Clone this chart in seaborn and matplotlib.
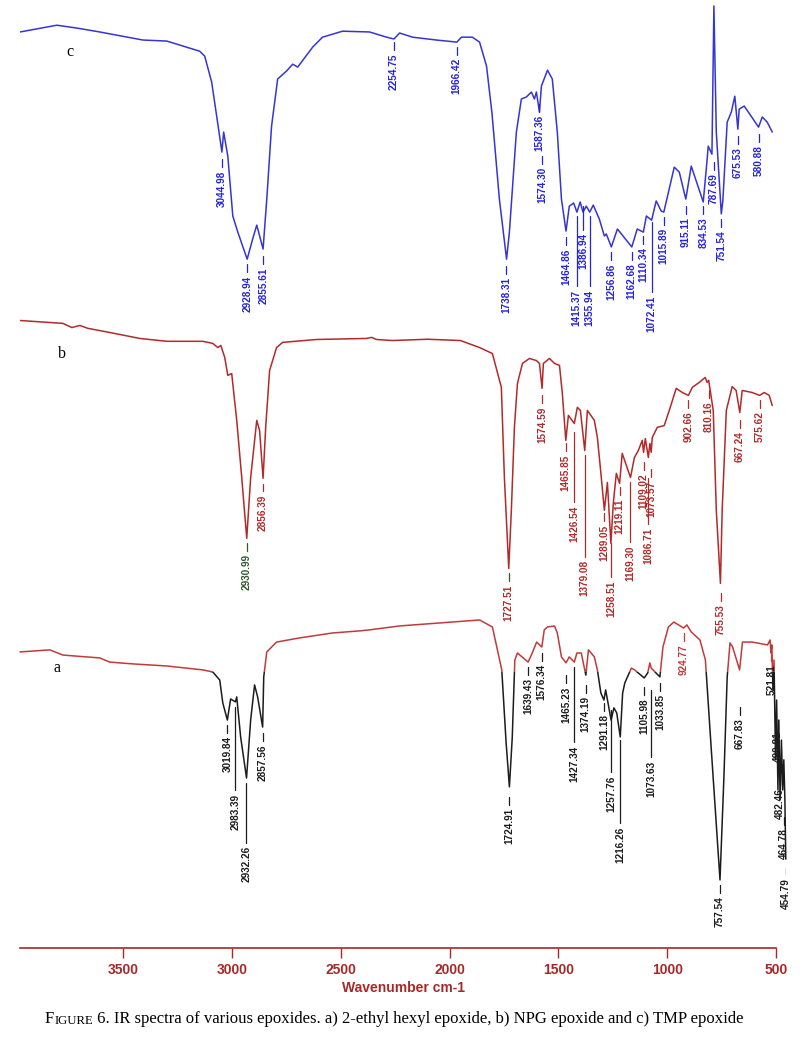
import numpy as np
import matplotlib
matplotlib.use("Agg")
import matplotlib.pyplot as plt
from matplotlib.patches import Rectangle
import seaborn as sns

# IR spectra: wavenumber (cm-1) and transmittance (%T)
# c) TMP epoxide
c_wn = [3972, 3803, 3711, 3606, 3408, 3298, 3147, 3124, 3092, 3069,
        3045, 3037, 3018, 2995, 2972, 2929, 2904, 2885, 2856, 2839,
        2817, 2789, 2748, 2720, 2697, 2628, 2583, 2491, 2367, 2289,
        2255, 2229, 2170, 2060, 1966, 1945, 1895, 1862, 1830, 1805,
        1771, 1738, 1725, 1693, 1670, 1647, 1624, 1610, 1601, 1587,
        1578, 1550, 1528, 1505, 1486, 1465, 1450, 1430, 1415, 1400,
        1387, 1372, 1356, 1340, 1312, 1289, 1280, 1257, 1229, 1163,
        1138, 1110, 1096, 1072, 1051, 1028, 1016, 968, 945, 915,
        890, 835, 821, 812, 795, 786, 775, 752, 745, 725,
        706, 690, 676, 670, 647, 615, 581, 564, 541, 518]
c_T = [91.2, 93.8, 92.7, 91.2, 88.1, 87.7, 83.8, 81.9, 71.9, 58.8,
       45.0, 52.7, 43.5, 20.4, 14.2, 3.8, 11.5, 16.9, 7.7, 26.9,
       55.0, 73.1, 76.2, 78.8, 77.7, 85.4, 89.2, 91.5, 91.2, 89.2,
       88.5, 90.8, 89.2, 88.1, 87.3, 89.2, 89.2, 87.3, 78.1, 60.0,
       26.9, 3.8, 14.2, 52.7, 65.4, 66.2, 68.1, 65.4, 68.1, 60.4,
       70.4, 76.5, 73.1, 52.7, 26.9, 14.6, 24.2, 25.4, 21.9, 25.8,
       21.9, 24.2, 21.9, 24.6, 19.2, 12.7, 13.5, 8.5, 15.4, 8.5,
       15.4, 14.2, 20.4, 18.8, 26.2, 22.3, 21.9, 39.2, 37.3, 26.9,
       39.6, 25.8, 38.5, 47.3, 44.2, 101.2, 52.7, 21.2, 26.2, 56.5,
       60.4, 66.5, 53.8, 61.5, 62.7, 58.8, 54.6, 58.5, 56.5, 52.7]

# b) NPG epoxide
b_wn = [3972, 3775, 3734, 3697, 3661, 3560, 3422, 3298, 3133, 3087,
        3064, 3050, 3032, 3018, 3000, 2977, 2954, 2931, 2913, 2885,
        2872, 2856, 2844, 2826, 2794, 2766, 2610, 2381, 2358, 2335,
        2262, 2100, 1950, 1862, 1803, 1762, 1748, 1728, 1716, 1702,
        1688, 1665, 1633, 1601, 1587, 1575, 1569, 1541, 1518, 1495,
        1482, 1466, 1454, 1427, 1413, 1399, 1379, 1367, 1335, 1321,
        1303, 1289, 1275, 1259, 1248, 1234, 1219, 1207, 1169, 1151,
        1133, 1115, 1109, 1101, 1087, 1080, 1074, 1069, 1046, 1014,
        991, 959, 931, 903, 885, 853, 826, 817, 810, 789,
        775, 756, 748, 729, 702, 684, 667, 656, 610, 576,
        555, 532, 518]
b_T = [99.2, 98.1, 96.5, 97.3, 96.2, 94.6, 92.3, 91.2, 91.2, 90.4,
       88.8, 89.6, 85.0, 78.1, 78.8, 60.8, 38.8, 15.4, 38.8, 60.8,
       56.9, 38.5, 58.1, 80.0, 88.8, 90.8, 91.9, 92.3, 92.7, 91.9,
       91.5, 92.0, 91.5, 88.8, 86.5, 73.5, 38.8, 3.8, 26.2, 58.1,
       75.0, 82.7, 84.6, 83.8, 82.7, 73.1, 82.7, 84.6, 82.7, 81.9,
       71.2, 53.1, 62.7, 59.6, 65.8, 64.6, 49.2, 64.6, 60.8, 54.2,
       38.8, 26.2, 36.9, 13.5, 28.8, 40.4, 36.5, 48.1, 38.8, 46.5,
       49.2, 53.1, 48.5, 53.8, 46.5, 51.9, 48.5, 54.2, 58.1, 58.8,
       64.6, 73.1, 71.5, 70.4, 73.5, 75.4, 77.3, 75.4, 76.2, 64.6,
       26.2, -1.9, 26.2, 64.6, 73.8, 72.3, 63.8, 72.3, 71.5, 70.4,
       71.5, 70.4, 66.5]

# a) 2-ethyl hexyl epoxide
a_wn = [3972, 3835, 3775, 3606, 3560, 3454, 3298, 3133, 3087, 3055,
        3041, 3020, 3005, 2983, 2977, 2959, 2932, 2913, 2895, 2881,
        2858, 2853, 2839, 2794, 2688, 2537, 2413, 2367, 2229, 1862,
        1803, 1760, 1740, 1725, 1712, 1700, 1688, 1639, 1620, 1600,
        1576, 1565, 1550, 1518, 1505, 1486, 1465, 1450, 1427, 1415,
        1395, 1374, 1362, 1335, 1321, 1305, 1291, 1283, 1258, 1245,
        1232, 1216, 1205, 1195, 1165, 1150, 1106, 1090, 1080, 1074,
        1034, 1020, 995, 970, 925, 910, 890, 850, 825, 800,
        758, 740, 725, 712, 700, 668, 655, 610, 540, 528,
        524, 520, 515, 510, 503, 498, 492, 488, 482, 476,
        470, 465, 460, 456]
a_T = [87.7, 88.5, 86.5, 85.4, 83.8, 83.1, 82.3, 80.8, 80.0, 76.9,
       68.1, 61.5, 69.6, 68.5, 70.4, 55.0, 39.2, 61.5, 75.0, 70.4,
       58.8, 78.1, 87.7, 91.5, 93.1, 95.0, 95.8, 96.2, 97.7, 100.0,
       97.3, 80.8, 52.7, 35.8, 54.6, 84.6, 87.3, 83.8, 87.3, 91.5,
       89.6, 96.2, 97.3, 97.7, 95.0, 85.8, 83.5, 85.8, 83.8, 87.3,
       87.3, 78.8, 88.5, 85.8, 80.8, 71.9, 69.2, 73.1, 61.5, 66.2,
       64.2, 55.0, 71.9, 75.8, 81.5, 80.8, 77.7, 79.6, 83.5, 81.5,
       78.1, 89.6, 97.3, 99.2, 96.9, 98.1, 95.4, 92.3, 84.6, 52.7,
       0.0, 39.6, 78.1, 91.2, 89.6, 80.8, 91.5, 91.5, 90.4, 92.3,
       87.3, 90.4, 73.1, 84.6, 46.2, 69.2, 34.6, 61.5, 30.8, 53.8,
       34.6, 46.2, 30.8, 8.0]

# peak labels: (text, %T at top of leader, leader length in %T)
c_peaks = [("3044.98", 42.3, 3), ("2928.94", 1.9, 3), ("2855.61", 5.0, 3),
           ("2254.75", 87.3, 3), ("1966.42", 85.4, 3), ("1738.31", 1.2, 3),
           ("1587.36", 63.5, 3), ("1574.30", 43.5, 3), ("1464.86", 12.3, 3),
           ("1415.37", 20.4, 27), ("1386.94", 24.2, 9), ("1355.94", 20.4, 27),
           ("1256.86", 6.5, 3), ("1162.68", 6.5, 3), ("1110.34", 12.7, 3),
           ("1072.41", 18.1, 27), ("1015.89", 20.0, 3), ("915.11", 24.2, 3),
           ("834.53", 24.2, 3), ("787.69", 41.2, 3), ("751.54", 19.2, 3),
           ("675.53", 51.2, 3), ("580.88", 51.9, 3)]
b_peaks = [("2930.99", 13.5, 3), ("2856.39", 36.5, 3), ("1727.51", 1.9, 3),
           ("1574.59", 70.4, 3), ("1465.85", 51.9, 3), ("1426.54", 56.2, 27),
           ("1379.08", 47.3, 39), ("1289.05", 25.0, 3), ("1258.51", 13.5, 13),
           ("1219.11", 35.0, 3), ("1169.30", 36.9, 23), ("1109.02", 44.6, 3),
           ("1073.57", 42.0, 3), ("1086.71", 38.8, 18), ("902.66", 68.5, 3),
           ("810.16", 72.3, 3), ("755.53", -5.8, 3), ("667.24", 60.8, 3),
           ("575.62", 68.5, 3)]
a_peaks = [("3019.84", 59.6, 3), ("2983.39", 66.5, 32), ("2932.26", 37.3, 23),
           ("2857.56", 56.5, 3), ("1724.91", 31.9, 3), ("1639.43", 81.9, 3),
           ("1576.34", 87.3, 3), ("1465.23", 78.8, 3), ("1427.34", 81.9, 29),
           ("1374.19", 75.0, 3), ("1291.18", 68.1, 3), ("1257.76", 65.4, 24),
           ("1216.26", 53.8, 32), ("1105.98", 74.2, 3), ("1073.63", 73.1, 26),
           ("1033.85", 75.8, 3), ("924.77", 95.0, 3), ("757.54", -1.9, 3),
           ("667.83", 66.5, 3), ("521.81", 87.3, 3), ("490.81", 61.5, 3),
           ("482.46", 39.6, 3), ("464.78", 24.2, 3), ("454.79", 5.0, 3)]

ticks = [3500, 3000, 2500, 2000, 1500, 1000, 500]

# vertical stacking of the three traces
OFF_A, OFF_B, OFF_C = 0, 116, 235

BLUE = "#3535d2"
BLUE_TXT = "#2424d8"
RED = "#b22a2a"
RED_A = "#c23a3a"
BLACK = "#1c1c1c"
GREEN = "#2f5a2f"
AXRED = "#a82828"

sns.set_theme(style="white")
plt.rcParams["font.family"] = ["Liberation Sans", "DejaVu Sans"]

fig = plt.figure(figsize=(8.04, 10.45), dpi=100)
ax = fig.add_axes([0.0249, 0.0928, 0.9527, 0.9072])

sns.lineplot(x=c_wn, y=np.array(c_T) + OFF_C, ax=ax, color=BLUE, lw=1.1,
             sort=False, estimator=None)
sns.lineplot(x=b_wn, y=np.array(b_T) + OFF_B, ax=ax, color=RED, lw=1.1,
             sort=False, estimator=None)

# trace a is red above ~80 %T and black below
sns.lineplot(x=a_wn, y=np.array(a_T) + OFF_A, ax=ax, color=RED_A, lw=1.1,
             sort=False, estimator=None)
ax.lines[-1].set_clip_path(Rectangle((300, 80 + OFF_A), 4000, 300, transform=ax.transData))
sns.lineplot(x=a_wn, y=np.array(a_T) + OFF_A, ax=ax, color=BLACK, lw=1.1,
             sort=False, estimator=None)
ax.lines[-1].set_clip_path(Rectangle((300, -100), 4000, 180 + OFF_A, transform=ax.transData))


def put_peaks(peaks, off, txt_col, dash_col, special=None):
    special = special or {}
    for text, top, lead in peaks:
        w = float(text)
        tc, dc = special.get(text, (txt_col, dash_col))
        y0 = top + off
        ax.plot([w, w], [y0, y0 - lead], color=dc, lw=0.9)
        ax.text(w, y0 - lead - 1.3, text, rotation=90, ha="center", va="top",
                fontsize=7.2, fontweight="bold", color=tc)


put_peaks(c_peaks, OFF_C, BLUE_TXT, BLUE_TXT)
put_peaks(b_peaks, OFF_B, RED, RED,
          {"2930.99": (GREEN, GREEN), "1727.51": (RED, GREEN)})
put_peaks(a_peaks, OFF_A, BLACK, BLACK,
          {"924.77": (RED_A, RED_A), "521.81": (BLACK, RED_A)})

# trace letters
for letter, w, t in [("c", 3743, 83.5 + OFF_C), ("b", 3780, 86.5 + OFF_B), ("a", 3803, 81.5 + OFF_A)]:
    ax.text(w, t, letter, fontsize=11.5, family="Liberation Serif", color="black",
            ha="center", va="center")

ax.set_xlim(3972, 455)
ax.set_ylim(-26.2, 338.5)
ax.set_yticks([])
ax.set_xticks(ticks)
ax.set_xticklabels([str(t) for t in ticks])
ax.tick_params(axis="x", direction="out", length=7, width=1.0, color=AXRED,
               labelcolor=AXRED, labelsize=10, pad=4, bottom=True)
for lbl in ax.get_xticklabels():
    lbl.set_fontweight("bold")
for s in ["left", "right", "top"]:
    ax.spines[s].set_visible(False)
ax.spines["bottom"].set_color(AXRED)
ax.spines["bottom"].set_linewidth(1.2)
ax.spines["bottom"].set_bounds(500, 3972)
ax.set_xlabel("Wavenumber cm-1", color=AXRED, fontsize=10, fontweight="bold", labelpad=3)
ax.set_facecolor("white")

# caption with small caps "FIGURE"
cap_kw = dict(family="Liberation Serif", color="black")
t1 = fig.text(45 / 804, 18 / 1045, "F", fontsize=12, va="bottom", **cap_kw)
t2 = plt.annotate("IGURE", xy=(1, 0), xycoords=t1, va="bottom", fontsize=9.2, **cap_kw)
plt.annotate(" 6. IR spectra of various epoxides. a) 2-ethyl hexyl epoxide, "
             "b) NPG epoxide and c) TMP epoxide",
             xy=(1, 0), xycoords=t2, va="bottom", fontsize=12, **cap_kw)

fig.savefig("out.png", dpi=100, facecolor="white")
